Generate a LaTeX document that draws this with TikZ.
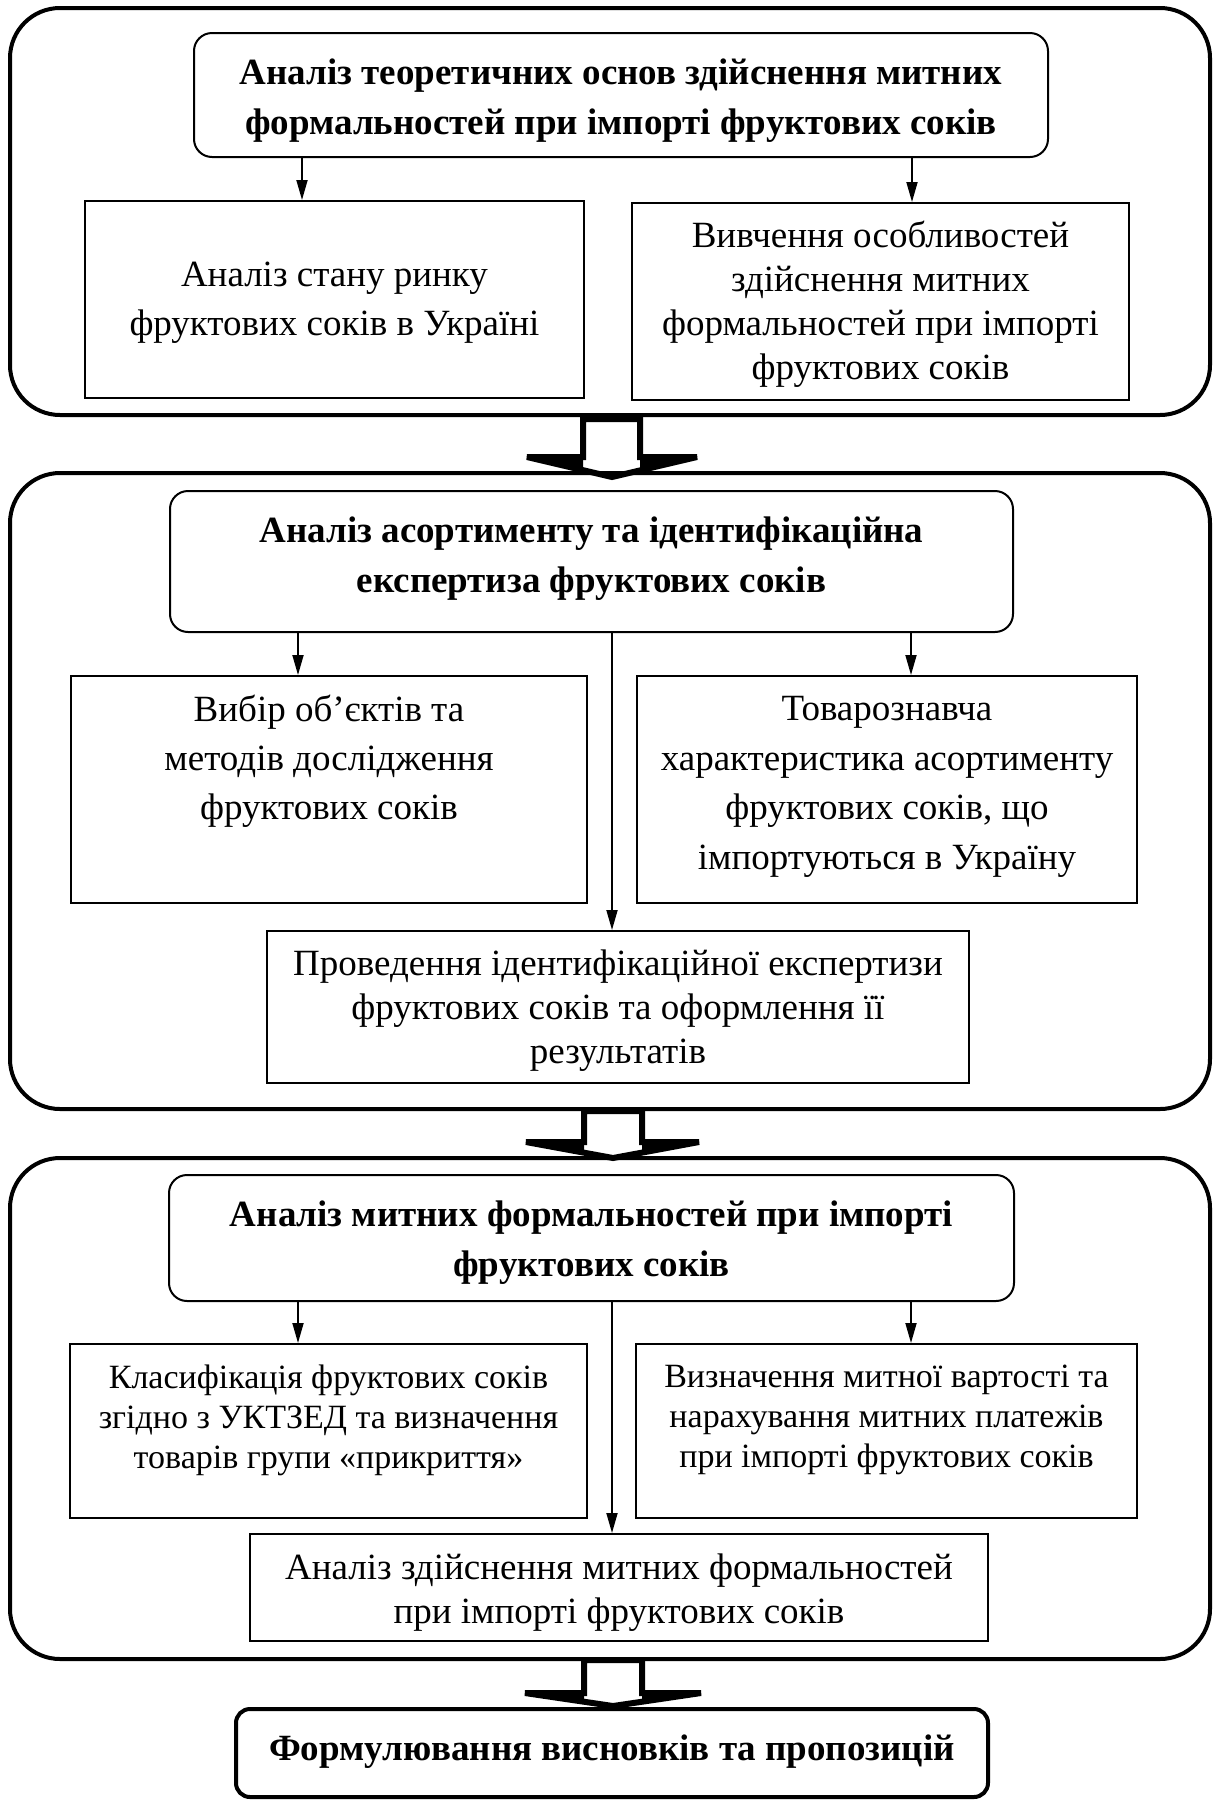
\documentclass[tikz,border=0pt]{standalone}
\usepackage{fontspec}
\setmainfont{Liberation Serif}
\usetikzlibrary{arrows.meta}
\begin{document}
\begin{tikzpicture}[x=1pt,y=-1pt,
  outer/.style={draw,line width=4pt,rounded corners=50pt,inner sep=0pt},
  headbox/.style={draw,line width=2pt,rounded corners=18pt,inner sep=0pt},
  finalbox/.style={draw,line width=4pt,rounded corners=14pt,inner sep=0pt},
  box/.style={draw,line width=2pt,inner sep=0pt},
  txt/.style={align=center,inner sep=0pt,yshift=-3pt},
  bigbold/.style={font=\bfseries\fontsize{37}{50}\selectfont},
  big/.style={font=\fontsize{37}{49}\selectfont},
  mid/.style={font=\fontsize{37}{44}\selectfont},
  small/.style={font=\fontsize{34}{40}\selectfont},
  arr/.style={line width=1.8pt,-{Triangle[length=20pt,width=11pt]}},
  blk/.style={draw,line width=6pt,fill=white,line join=miter,miter limit=2},
  wing/.style={fill=black}]
\useasboundingbox (0,0) rectangle (1215,1800);
% block arrows (drawn first)
\draw[blk] (583,419) -- (583,457) -- (527,457) -- (612,477) -- (697,457) -- (640,457) -- (640,419) -- cycle;
\fill[wing] (527,456) -- (583,456) -- (583,471) -- cycle;
\fill[wing] (697,456) -- (640,456) -- (640,471) -- cycle;
\draw[blk] (584,1660) -- (584,1693) -- (525,1693) -- (613,1706) -- (701,1693) -- (642,1693) -- (642,1660) -- cycle;
\fill[wing] (525,1692) -- (584,1692) -- (584,1702) -- cycle;
\fill[wing] (701,1692) -- (642,1692) -- (642,1702) -- cycle;
\draw[blk] (584,1111) -- (584,1142) -- (526,1142) -- (613,1158) -- (699,1142) -- (642,1142) -- (642,1111) -- cycle;
\fill[wing] (526,1141) -- (584,1141) -- (584,1153) -- cycle;
\fill[wing] (699,1141) -- (642,1141) -- (642,1153) -- cycle;
% outer containers
\node[outer,minimum width=1200pt,minimum height=407pt] (o1) at (610,211.5) {};
\node[outer,minimum width=1200pt,minimum height=636pt] (o2) at (610,791) {};
\node[outer,minimum width=1200pt,minimum height=501pt] (o3) at (610,1408.5) {};
% block 1
\node[headbox,minimum width=854pt,minimum height=124pt] (h1) at (621,95) {};
\node[box,minimum width=499pt,minimum height=197pt] (l1) at (334.5,299.5) {};
\node[box,minimum width=497pt,minimum height=197pt] (r1) at (880.5,301.5) {};
\node[txt,bigbold] (h1t) at (621,98) {Аналіз теоретичних основ здійснення митних\\формальностей при імпорті фруктових соків};
\node[txt,big] (l1t) at (l1.center) {Аналіз стану ринку\\фруктових соків в Україні};
\node[txt,mid] (r1t) at (r1.center) {Вивчення особливостей\\здійснення митних\\формальностей при імпорті\\фруктових соків};
\coordinate (a1l) at (302,157);
\coordinate (a1r) at (912,157);
\draw[arr] (a1l) -- (a1l |- l1.north);
\draw[arr] (a1r) -- (a1r |- r1.north);
% block 2
\node[headbox,minimum width=843pt,minimum height=141pt] (h2) at (591.5,561.5) {};
\node[box,minimum width=516pt,minimum height=227pt] (l2) at (329,789.5) {};
\node[box,minimum width=500pt,minimum height=227pt] (r2) at (887,789.5) {};
\node[box,minimum width=702pt,minimum height=152pt] (b2) at (618,1007) {};
\node[txt,bigbold] (h2t) at (591.5,556) {Аналіз асортименту та ідентифікаційна\\експертиза фруктових соків};
\node[txt,big] (l2t) at (329,758) {Вибір об’єктів та\\методів дослідження\\фруктових соків};
\node[txt,font=\fontsize{37}{49.5}\selectfont] (r2t) at (887,784) {Товарознавча\\характеристика асортименту\\фруктових соків, що\\імпортуються в Україну};
\node[txt,mid] (b2t) at (618,1008) {Проведення ідентифікаційної експертизи\\фруктових соків та оформлення її\\результатів};
\coordinate (a2l) at (298,632);
\coordinate (a2r) at (911,632);
\coordinate (a2c) at (612,632);
\draw[arr] (a2l) -- (a2l |- l2.north);
\draw[arr] (a2r) -- (a2r |- r2.north);
\draw[arr] (a2c) -- (a2c |- b2.north);
% block 3
\node[headbox,minimum width=845pt,minimum height=126pt] (h3) at (591.5,1238) {};
\node[box,minimum width=517pt,minimum height=174pt] (l3) at (328.5,1431) {};
\node[box,minimum width=501pt,minimum height=174pt] (r3) at (886.5,1431) {};
\node[box,minimum width=738pt,minimum height=107pt] (b3) at (619,1587.5) {};
\node[txt,bigbold] (h3t) at (591.5,1240) {Аналіз митних формальностей при імпорті\\фруктових соків};
\node[txt,small] (l3t) at (328.5,1417) {Класифікація фруктових соків\\згідно з УКТЗЕД та визначення\\товарів групи «прикриття»};
\node[txt,small] (r3t) at (886.5,1417) {Визначення митної вартості та\\нарахування митних платежів\\при імпорті фруктових соків};
\node[txt,mid] (b3t) at (619,1590) {Аналіз здійснення митних формальностей\\при імпорті фруктових соків};
\coordinate (a3l) at (298,1301);
\coordinate (a3r) at (911,1301);
\coordinate (a3c) at (612,1301);
\draw[arr] (a3l) -- (a3l |- l3.north);
\draw[arr] (a3r) -- (a3r |- r3.north);
\draw[arr] (a3c) -- (a3c |- b3.north);
% final
\node[finalbox,minimum width=752pt,minimum height=88pt] (fin) at (612,1753) {};
\node[txt,bigbold] (fint) at (612,1749) {Формулювання висновків та пропозицій};
\end{tikzpicture}
\end{document}
